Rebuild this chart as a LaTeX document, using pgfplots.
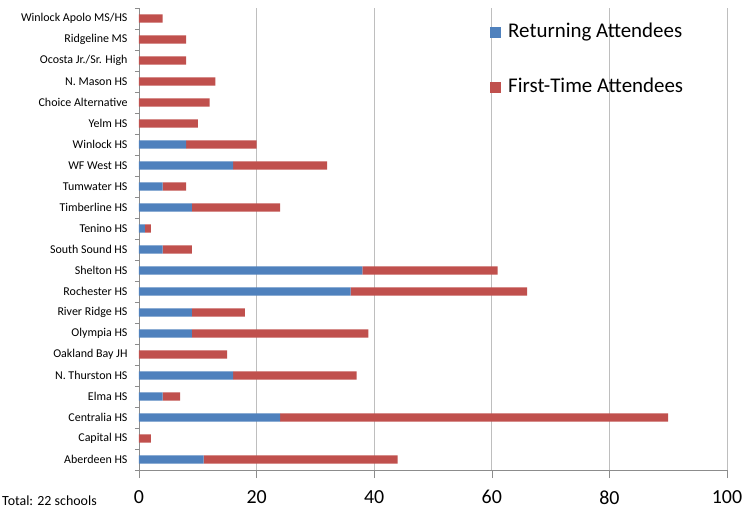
\documentclass[border=0pt]{standalone}
\usepackage{fontspec}
\setmainfont{Carlito}
\usepackage{pgfplots}
\usepackage{pgfplotstable}
\pgfplotsset{compat=1.18}

\definecolor{retblue}{HTML}{4F81BD}
\definecolor{newred}{HTML}{C0504D}
\definecolor{gridgray}{HTML}{BEBEBE}
\definecolor{axisgray}{HTML}{8C8C8C}

\pgfplotsset{sqlegend/.style={legend image code/.code={
    \fill[##1, draw=none] (0bp,-5.5bp) rectangle (11bp,5.5bp);}}}

% y = 0 is Aberdeen HS (bottom), 21 is Winlock Apolo MS/HS (top)
\pgfplotstableread{
idx ret first
0  11 33
1  0  2
2  24 66
3  4  3
4  16 21
5  0  15
6  9  30
7  9  9
8  36 30
9  38 23
10 4  5
11 1  1
12 9  15
13 4  4
14 16 16
15 8  12
16 0  10
17 0  12
18 0  13
19 0  8
20 0  8
21 0  4
}\attend

\begin{document}
\begin{tikzpicture}
\path[use as bounding box] (-139bp,-38bp) rectangle (614bp,470bp);
\begin{axis}[
    at={(0,0)}, anchor=south west,
    scale only axis, width=588bp, height=462bp,
    xbar stacked, bar width=8.3bp,
    xmin=0, xmax=100, ymin=-0.5, ymax=21.5,
    xtick={0,20,...,100},
    ytick={0,...,21},
    yticklabels={Aberdeen HS, Capital HS, Centralia HS, Elma HS, N. Thurston HS,
        Oakland Bay JH, Olympia HS, River Ridge HS, Rochester HS, Shelton HS,
        South Sound HS, Tenino HS, Timberline HS, Tumwater HS, WF West HS,
        Winlock HS, Yelm HS, Choice Alternative, N. Mason HS,
        Ocosta Jr./Sr. High, Ridgeline MS, Winlock Apolo MS/HS},
    minor ytick={-0.5,0.5,...,21.5},
    axis x line*=bottom, axis y line*=left,
    axis line style={axisgray, -},
    xmajorgrids, major grid style={gridgray, line width=0.8bp},
    tick align=outside,
    major tick length=8bp, minor tick length=4bp,
    every major y tick/.append style={draw=none},
    every tick/.append style={axisgray},
    /pgf/number format/assume math mode=true,
    xticklabel style={font=\fontsize{20}{24}\selectfont, yshift=-9bp},
    yticklabel style={font=\fontsize{12}{14}\selectfont},
    legend cell align=left,
    legend style={draw=none, fill=none, at={(0.597,0.970)}, anchor=north west,
        inner sep=0pt, font=\fontsize{21}{25}\selectfont,
        nodes={inner sep=0pt, text height=15bp, text depth=5bp},
        row sep=35.6bp,
        /tikz/every odd column/.append style={column sep=7bp}},
]
\addplot[fill=retblue, draw=none, sqlegend] table[x=ret, y=idx] {\attend};
\addplot[fill=newred, draw=none, sqlegend] table[x=first, y=idx] {\attend};
\legend{Returning Attendees, First-Time Attendees}
\end{axis}
\node[anchor=base west, inner sep=0pt, font=\fontsize{14}{16}\selectfont]
    at (-137bp,-35bp) {Total: 22 schools};
\end{tikzpicture}
\end{document}
